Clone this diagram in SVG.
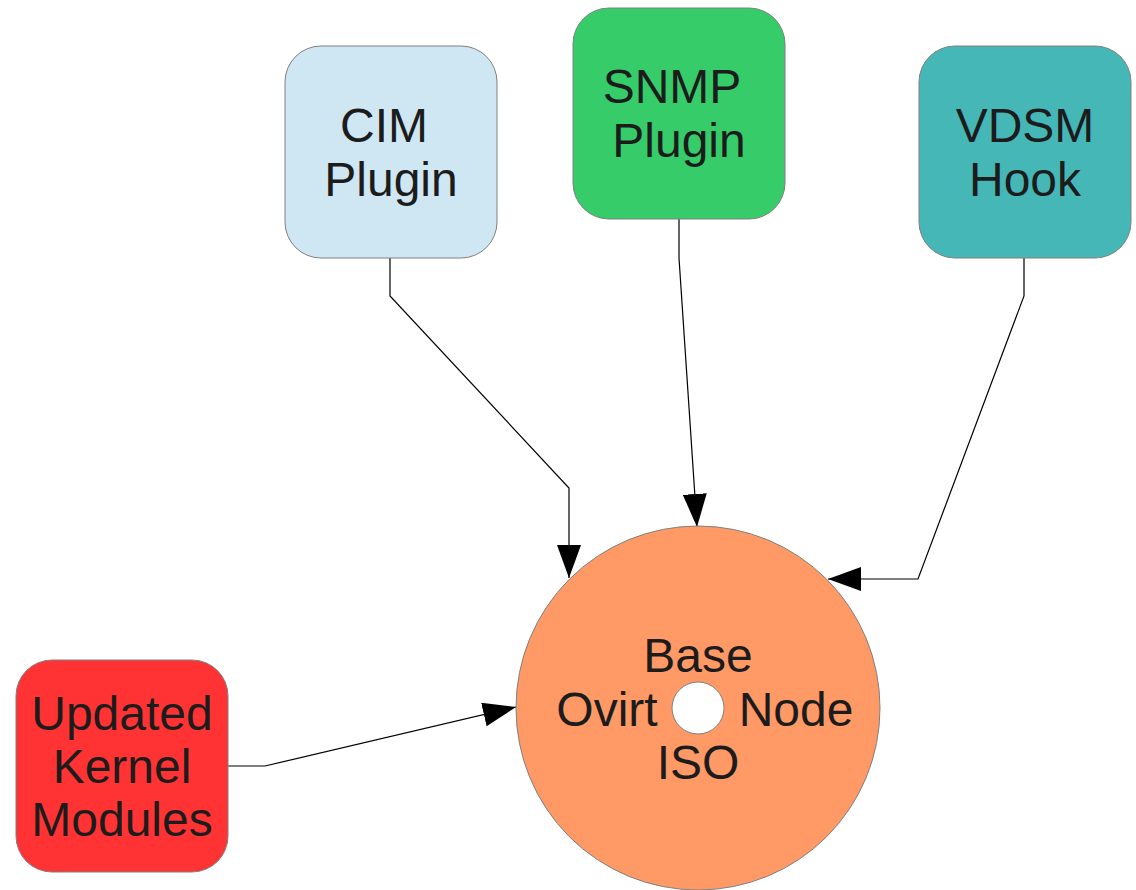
<svg xmlns="http://www.w3.org/2000/svg" width="1136" height="890" viewBox="0 0 1136 890">
<defs>
<marker id="arr" markerWidth="34" markerHeight="24" refX="33" refY="12" orient="auto" markerUnits="userSpaceOnUse">
<path d="M0,0 L33,12 L0,24 Z" fill="#000"/>
</marker>
<style>
.box{stroke:#808080;stroke-width:1}
.t{font-family:"Liberation Sans",Arial,sans-serif;font-size:48px;fill:#1c1c1c;text-anchor:middle}
.c{fill:none;stroke:#000;stroke-width:1.2}
</style>
</defs>
<rect width="1136" height="890" fill="#fff"/>
<g id="connectors">
<polyline class="c" points="390,258 390,296 569,488 569,578" marker-end="url(#arr)"/>
<polyline class="c" points="679,219 679,258 697,527" marker-end="url(#arr)"/>
<polyline class="c" points="1024,258 1024,296 918,579 828,579" marker-end="url(#arr)"/>
<polyline class="c" points="228,766 265,766 516,707" marker-end="url(#arr)"/>
</g>
<g id="cim">
<rect class="box" x="285" y="46" width="212" height="212" rx="36" fill="#cfe6f3"/>
<text class="t" x="384" y="142">CIM</text>
<text class="t" x="391" y="196">Plugin</text>
</g>
<g id="snmp">
<rect class="box" x="573" y="8" width="212" height="211" rx="36" fill="#35cc69"/>
<text class="t" x="672" y="103">SNMP</text>
<text class="t" x="679" y="157">Plugin</text>
</g>
<g id="vdsm">
<rect class="box" x="919" y="46" width="212" height="212" rx="36" fill="#46b7b7"/>
<text class="t" x="1025" y="142">VDSM</text>
<text class="t" x="1025" y="196">Hook</text>
</g>
<g id="kernel">
<rect class="box" x="16" y="660" width="212" height="212" rx="36" fill="#ff3333"/>
<text class="t" x="122" y="730">Updated</text>
<text class="t" x="122" y="783">Kernel</text>
<text class="t" x="122" y="836">Modules</text>
</g>
<g id="base">
<circle class="box" cx="698" cy="708" r="182" fill="#ff9966"/>
<circle class="box" cx="698" cy="708" r="26" fill="#fff"/>
<text class="t" x="698" y="672">Base</text>
<text class="t" x="607" y="726">Ovirt</text>
<text class="t" x="796" y="726">Node</text>
<text class="t" x="698" y="779">ISO</text>
</g>
</svg>
